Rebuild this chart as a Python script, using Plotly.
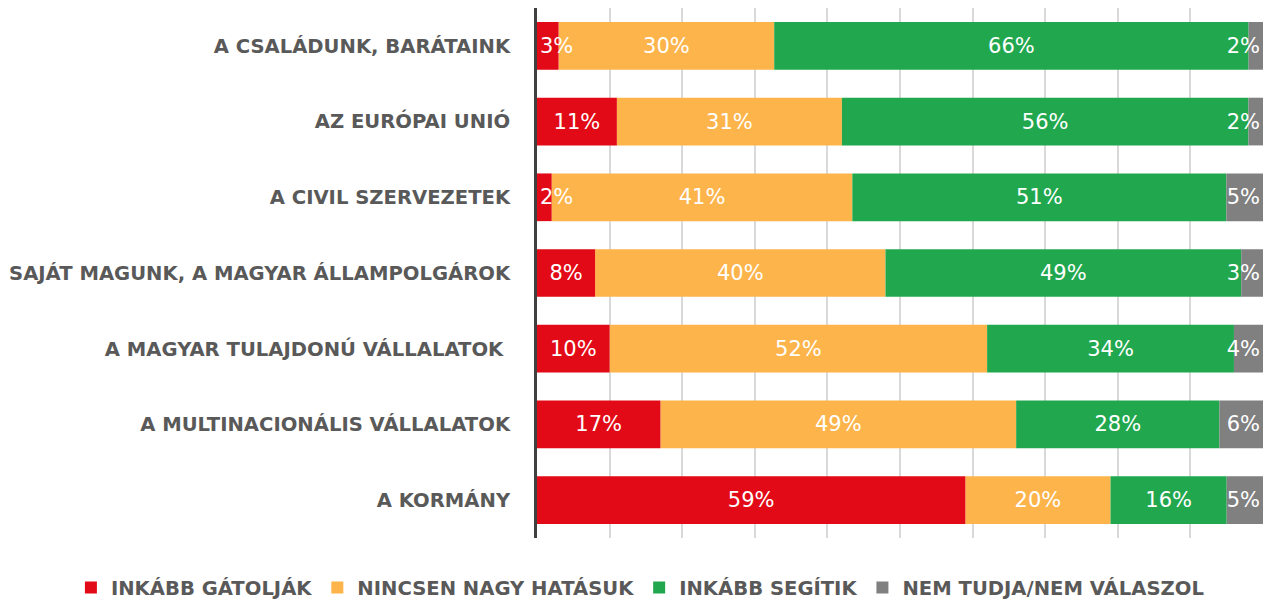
import plotly.graph_objects as go

categories = [
    "A CSALÁDUNK, BARÁTAINK",
    "AZ EURÓPAI UNIÓ",
    "A CIVIL SZERVEZETEK",
    "SAJÁT MAGUNK, A MAGYAR ÁLLAMPOLGÁROK",
    "A MAGYAR TULAJDONÚ VÁLLALATOK ",
    "A MULTINACIONÁLIS VÁLLALATOK",
    "A KORMÁNY",
]

series_names = ["INKÁBB GÁTOLJÁK", "NINCSEN NAGY HATÁSUK", "INKÁBB SEGÍTIK", "NEM TUDJA/NEM VÁLASZOL"]
gatoljak = [3, 11, 2, 8, 10, 17, 59]
nincsen = [30, 31, 41, 40, 52, 49, 20]
segitik = [66, 56, 51, 49, 34, 28, 16]
nem_tudja = [2, 2, 5, 3, 4, 6, 5]

colors = ["#E20A16", "#FDB44B", "#21A84F", "#808080"]
SMALL = 5  # segments too narrow for a centred label get a start-anchored label

series = [gatoljak, nincsen, segitik, nem_tudja]
totals = [sum(s[i] for s in series) for i in range(len(categories))]
# 100% stacked: normalise each row, compute the running base of every segment
pct = [[v / t * 100 for v, t in zip(s, totals)] for s in series]
bases = []
run = [0.0] * len(categories)
for p in pct:
    bases.append(list(run))
    run = [r + v for r, v in zip(run, p)]

fig = go.Figure()


def add(k, idx, anchor, showlegend=True):
    fig.add_trace(go.Bar(
        y=[categories[i] for i in idx], x=[pct[k][i] for i in idx], base=[bases[k][i] for i in idx],
        name=series_names[k], orientation="h", legendgroup=series_names[k], legendrank=k + 1,
        showlegend=showlegend,
        marker=dict(color=colors[k], line=dict(width=0)),
        text=[series[k][i] for i in idx], texttemplate="%{text}%",
        textposition="inside", insidetextanchor=anchor, constraintext="none", textangle=0,
        textfont=dict(family="DejaVu Sans", size=21, color="white"),
        hoverinfo="skip",
    ))


all_idx = list(range(len(categories)))
# drawing order keeps overflowing labels on top of their neighbours
add(1, all_idx, "middle")
add(2, all_idx, "middle")
add(3, all_idx, "end")
add(0, [i for i in all_idx if gatoljak[i] >= SMALL], "middle")
add(0, [i for i in all_idx if gatoljak[i] < SMALL], "start", showlegend=False)

fig.update_layout(
    barmode="overlay", bargap=0.37,
    width=1264, height=601,
    margin=dict(l=537, r=1, t=8, b=63, autoexpand=False),
    paper_bgcolor="white", plot_bgcolor="white",
    showlegend=True,
    legend=dict(orientation="h", traceorder="normal", x=-0.642, xanchor="left",
                y=-0.094, yanchor="middle",
                font=dict(family="DejaVu Sans", size=19.6, color="#595959", weight="bold")),
    font=dict(family="DejaVu Sans", color="#595959"),
)
fig.update_xaxes(range=[0, 100], dtick=10, showgrid=True, gridcolor="#D9D9D9", gridwidth=2,
                 showticklabels=False, zeroline=False, showline=False, fixedrange=True)
fig.update_yaxes(autorange="reversed", categoryorder="array", categoryarray=categories,
                 showline=True, linecolor="#404040", linewidth=3,
                 ticks="", ticklabelstandoff=20, showgrid=False, fixedrange=True,
                 tickfont=dict(family="DejaVu Sans", size=19.6, color="#595959", weight="bold"))

fig.write_html("out.html", config={"displayModeBar": False},
               post_script="document.body.style.margin='0';document.body.style.overflow='hidden';")
